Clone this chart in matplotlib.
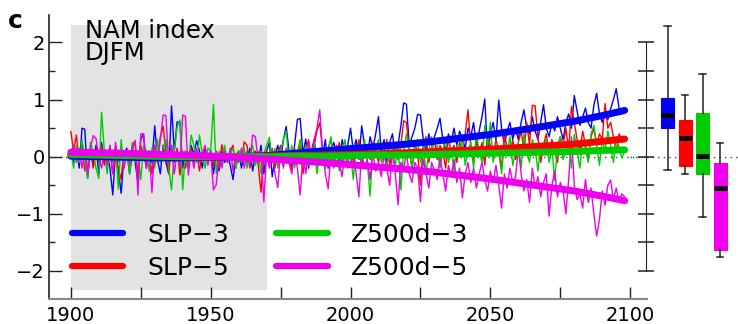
import numpy as np
import matplotlib
matplotlib.use("Agg")
import matplotlib.pyplot as plt
from matplotlib.patches import Rectangle

plt.rcParams['font.family'] = ['DejaVu Sans']

# annual NAM index (DJFM), 1900-2098
years = np.arange(1900, 2099)

slp3 = [
    0.05, -0.1, 0.15, -0.2, 0.5, 0.48, -0.38, 0.1, -0.15, 0.2,
    -0.3, 0.25, -0.1, 0.05, -0.2, -0.67, 0.1, -0.25, -0.64, 0.0,
    0.15, -0.3, 0.05, -0.1, -0.45, 0.3, 0.4, -0.2, 0.1, -0.1,
    0.54, -0.05, -0.3, 0.2, -0.1, -0.3, 0.89, 0.1, 0.61, 0.6,
    -0.2, 0.1, -0.15, 0.2, 0.05, 0.28, 0.1, -0.2, 0.15, -0.05,
    0.1, -0.3, 0.05, -0.25, 0.1, -0.1, 0.05, -0.15, -0.4, 0.0,
    0.1, -0.2, 0.05, -0.1, 0.15, -0.25, 0.05, -0.1, 0.2, -0.3,
    0.1, 0.25, -0.35, 0.0, 0.2, -0.1, 0.3, 0.53, 0.1, -0.2,
    0.2, 0.65, 0.67, 0.05, 0.31, -0.2, 0.1, 0.3, -0.1, 0.15,
    0.0, 0.3, -0.2, 0.1, 0.25, 0.05, -0.1, 0.3, 0.1, 0.2,
    0.5, 0.1, 0.3, -0.05, 0.54, 0.2, 0.0, 0.35, 0.15, 0.4,
    0.7, 0.1, 0.3, -0.1, 0.25, 0.4, 0.0, 0.2, 0.54, 0.94,
    0.92, 0.2, 0.35, 0.5, 0.74, 0.73, 0.3, 0.1, 0.4, 0.2,
    0.35, 0.5, 0.67, 0.3, 0.1, 0.4, 0.25, 0.5, 0.2, 0.45,
    0.3, 0.15, 0.5, 0.35, 0.6, 0.2, 0.45, 0.7, 1.01, 0.05,
    0.4, 0.6, 0.3, 0.99, 0.5, 0.2, 0.45, 0.6, 0.3, 0.5,
    0.3, 0.6, 0.82, 0.5, 0.4, 0.7, 0.45, 0.3, 0.6, 0.91,
    0.5, 0.35, 0.6, 0.45, 0.7, 0.5, 0.3, 0.6, 0.75, 0.5,
    1.07, 0.8, 0.55, 0.7, 0.85, 0.6, 0.5, 0.9, 1.11, 0.75,
    0.6, 0.8, 0.65, 0.84, 1.0, 1.19, 0.85, 0.75, 0.8,
]
slp5 = [
    0.44, 0.1, 0.38, -0.1, 0.2, -0.25, 0.05, 0.15, -0.2, 0.1,
    -0.1, 0.2, -0.15, 0.05, 0.1, -0.3, 0.0, -0.2, -0.4, 0.1,
    0.05, -0.2, 0.1, 0.28, -0.35, 0.2, 0.0, -0.15, 0.1, -0.3,
    0.2, -0.1, 0.35, 0.53, 0.1, -0.3, 0.2, -0.1, 0.15, -0.32,
    0.1, -0.2, 0.05, 0.15, -0.1, 0.1, -0.25, 0.05, 0.1, -0.1,
    0.05, -0.15, 0.1, -0.2, 0.21, 0.0, -0.1, 0.1, 0.2, -0.2,
    0.1, -0.1, 0.26, 0.2, -0.2, 0.05, 0.1, -0.15, -0.62, 0.05,
    0.1, -0.1, 0.15, -0.2, 0.05, 0.2, -0.15, 0.1, 0.0, -0.25,
    0.15, -0.1, 0.2, -0.3, 0.1, 0.3, -0.05, 0.2, 0.45, 0.6,
    0.1, -0.2, 0.15, 0.3, -0.1, 0.05, 0.25, -0.15, 0.1, 0.0,
    0.2, -0.1, 0.05, 0.3, -0.2, 0.15, 0.1, -0.05, 0.25, 0.1,
    -0.1, 0.2, 0.05, 0.3, -0.15, 0.1, 0.25, -0.05, 0.2, 0.63,
    0.6, 0.1, -0.2, 0.25, 0.05, -0.5, 0.2, 0.35, -0.1, 0.15,
    0.3, -0.05, 0.2, 0.1, -0.2, 0.35, 0.05, 0.2, -0.1, 0.25,
    0.1, 0.4, 0.82, 0.2, -0.1, 0.3, 0.05, 0.25, -0.15, 0.35,
    0.2, 0.0, 0.3, 0.1, -0.2, 0.4, 0.15, 0.05, 0.3, -0.05,
    0.25, 0.45, 0.1, 0.6, 0.2, 0.9, 0.89, 0.35, -0.1, 0.2,
    0.4, 0.05, 0.3, 0.15, -0.1, 0.35, 0.2, 0.5, 0.1, 0.88,
    0.6, 0.3, 0.1, 0.45, 0.2, -0.05, 0.35, 0.5, 0.2, 0.4,
    0.3, 0.93, 0.5, 0.6, 0.35, 0.1, 0.4, 0.3, 0.28,
]
z500d3 = [
    0.1, -0.2, 0.2, -0.1, 0.3, -0.05, -0.38, 0.25, 0.1, -0.2,
    -0.38, 0.78, 0.1, -0.3, 0.2, -0.1, 0.15, -0.57, 0.3, -0.2,
    0.1, -0.3, 0.25, -0.1, 0.05, -0.4, 0.2, 0.1, -0.25, 0.15,
    -0.2, 0.3, -0.1, 0.15, 0.3, -0.2, -0.58, 0.1, 0.52, 0.64,
    -0.58, 0.1, -0.2, 0.38, 0.2, -0.1, 0.38, 0.05, -0.2, 0.15,
    0.1, 0.92, -0.29, 0.1, -0.15, 0.2, -0.1, 0.05, 0.15, -0.2,
    0.1, -0.1, 0.15, -0.2, 0.05, 0.2, -0.15, 0.1, -0.3, 0.05,
    0.2, 0.34, -0.1, 0.15, -0.2, 0.1, 0.3, 0.45, -0.1, 0.2,
    -0.2, 0.1, 0.3, -0.1, 0.2, -0.15, 0.05, 0.25, -0.3, 0.1,
    0.2, -0.2, 0.1, 0.35, -0.1, 0.15, -0.25, 0.1, 0.3, -0.1,
    0.05, -0.4, 0.2, 0.1, -0.15, 0.3, -0.1, -0.69, 0.15, 0.05,
    0.3, -0.1, 0.1, -0.2, 0.25, 0.05, -0.15, 0.2, -0.58, 0.1,
    0.4, 0.1, -0.2, 0.15, 0.3, -0.1, 0.2, -0.3, 0.1, 0.35,
    0.0, 0.2, -0.2, 0.1, 0.3, -0.1, 0.15, -0.25, 0.2, 0.05,
    0.35, -0.15, 0.1, 0.25, -0.2, 0.4, 0.1, -0.1, 0.55, 0.2,
    0.6, -0.1, 0.2, 0.1, -0.3, 0.25, 0.05, 0.35, -0.15, 0.1,
    0.25, -0.2, 0.4, 0.1, -0.1, 0.3, 0.15, -0.25, 0.2, 0.05,
    0.3, -0.1, 0.15, -0.42, 0.2, 0.35, -0.05, 0.1, 0.3, -0.2,
    0.39, 0.1, -0.2, 0.3, 0.15, -0.1, 0.4, 0.55, 0.2, -0.15,
    0.3, 0.1, 0.45, 0.2, -0.1, 0.35, 0.15, -0.02, 0.1,
]
z500d5 = [
    0.05, 0.2, -0.1, 0.15, -0.2, 0.1, -0.3, 0.15, 0.37, 0.32,
    0.0, -0.2, 0.1, -0.15, 0.2, -0.3, 0.25, -0.1, 0.05, -0.2,
    0.1, -0.1, 0.2, 0.28, -0.67, 0.4, 0.4, -0.2, 0.1, -0.63,
    0.2, -0.1, 0.3, 0.73, 0.72, -0.1, 0.2, -0.3, 0.1, -0.2,
    0.73, 0.71, -0.32, 0.1, -0.2, 0.15, -0.1, 0.05, 0.2, -0.15,
    0.1, -0.58, -0.49, 0.05, -0.2, 0.1, -0.1, 0.15, -0.25, 0.05,
    -0.1, 0.15, -0.2, 0.1, -0.15, 0.38, 0.35, -0.1, 0.1, -0.79,
    0.05, -0.2, 0.1, -0.3, -0.54, 0.1, -0.2, 0.15, -0.1, -0.3,
    0.1, -0.2, -0.67, 0.05, -0.3, 0.2, -0.1, 0.3, 0.5, 0.82,
    0.1, -0.3, -0.56, 0.05, -0.2, 0.2, -0.1, -0.35, 0.1, -0.2,
    -0.1, 0.15, -0.3, -0.7, 0.1, -0.2, -0.05, -0.4, 0.1, -0.25,
    -0.1, -0.35, 0.05, -0.2, -0.5, 0.1, -0.3, -0.84, -0.1, -0.2,
    0.05, -0.3, -0.45, -0.1, -0.2, -0.79, -0.05, -0.3, -0.55, -0.1,
    -0.25, -0.4, 0.0, -0.3, -0.6, -0.15, -0.35, -0.05, -0.45, -0.2,
    -0.72, -0.3, -0.1, -0.45, -0.2, -0.55, -0.3, -0.1, -0.4, -0.6,
    -0.25, -0.45, -0.15, -0.5, -0.9, -0.3, -0.55, -0.2, -0.45, -0.35,
    0.15, -0.3, -0.6, -0.4, -0.8, -0.2, -0.55, -0.35, -0.7, -0.45,
    -0.3, -1.04, -0.5, -0.25, -0.7, -0.45, -0.6, -1.0, -0.4, 0.35,
    -0.5, -0.75, -0.65, -0.9, -0.4, -0.8, -0.55, -1.0, -1.39, -1.1,
    -0.6, -0.85, -0.5, -0.41, -0.75, -0.55, -0.8, -0.65, -0.7,
]

# smooth trends
trend_years = [1900, 1910, 1920, 1930, 1940, 1950, 1960, 1970, 1980, 1990, 2000,
               2010, 2020, 2030, 2040, 2050, 2060, 2070, 2080, 2090, 2098]
slp3_trend = [0.01, 0.0, -0.01, -0.02, -0.02, -0.01, 0.0, 0.02, 0.06, 0.1, 0.14,
              0.18, 0.22, 0.27, 0.33, 0.39, 0.46, 0.54, 0.62, 0.72, 0.81]
slp5_trend = [0.04, 0.03, 0.02, 0.01, 0.0, 0.0, 0.0, 0.01, 0.02, 0.03, 0.04,
              0.05, 0.07, 0.09, 0.11, 0.13, 0.16, 0.19, 0.22, 0.27, 0.31]
z500d3_trend = [0.04, 0.03, 0.02, 0.01, 0.0, 0.0, 0.0, 0.0, 0.01, 0.01, 0.02,
                0.03, 0.03, 0.04, 0.05, 0.06, 0.07, 0.08, 0.09, 0.11, 0.12]
z500d5_trend = [0.08, 0.07, 0.06, 0.04, 0.03, 0.01, -0.01, -0.04, -0.07, -0.1, -0.14,
                -0.18, -0.22, -0.27, -0.33, -0.39, -0.46, -0.53, -0.6, -0.69, -0.77]

labels = ['SLP\u22123', 'SLP\u22125', 'Z500d\u22123', 'Z500d\u22125']
colors = ['#0000ff', '#ff0000', '#00cc00', '#ee00ee']

# box summary of the trend at 2100: median, q1, q3, whisker low, whisker high
box_med = [0.73, 0.32, 0.01, -0.55]
box_q1 = [0.5, -0.17, -0.31, -1.64]
box_q3 = [1.03, 0.64, 0.77, -0.11]
box_lo = [-0.24, -0.31, -1.06, -1.75]
box_hi = [2.29, 1.08, 1.44, 0.24]

W, H = 738, 324
fig = plt.figure(figsize=(W / 100, H / 100), dpi=100)
ax = fig.add_axes([49 / W, 25 / H, 598 / W, 284 / H])
ax.patch.set_alpha(0)

ylim = (-2.49, 2.48)
ax.set_xlim(1892.2, 2106.0)
ax.set_ylim(*ylim)

ax.add_patch(Rectangle((1900, -2.33), 70, 4.64, facecolor='#e3e3e3', edgecolor='none', zorder=0))
ax.axhline(0, color='#444444', lw=1, ls=(0, (1, 3)), zorder=1)

series = [slp3, slp5, z500d3, z500d5]
trends = [slp3_trend, slp5_trend, z500d3_trend, z500d5_trend]
for vals, col in zip(series, colors):
    ax.plot(years, vals, color=col, lw=1.0, zorder=2)
handles = []
for tr, col, lab in zip(trends, colors, labels):
    h, = ax.plot(trend_years, tr, color=col, lw=5, solid_capstyle='round', zorder=3, label=lab)
    handles.append(h)

for s in ['top', 'right']:
    ax.spines[s].set_visible(False)
ax.spines['left'].set_color('#222222')
ax.spines['bottom'].set_color('#888888')
ax.spines['left'].set_linewidth(1.2)
ax.spines['bottom'].set_linewidth(1.5)

ax.set_xticks([1900, 1950, 2000, 2050, 2100])
ax.set_xticks([1925, 1975, 2025, 2075], minor=True)
ax.set_yticks([-2, -1, 0, 1, 2])
ax.set_yticks([-1.5, -0.5, 0.5, 1.5], minor=True)
ax.tick_params(axis='x', which='both', direction='in', length=8.5, width=1, color='#222222',
               labelsize=14, pad=5)
ax.tick_params(axis='y', which='major', direction='in', length=9.5, width=1, color='#222222',
               labelsize=14, pad=3)
ax.tick_params(axis='y', which='minor', direction='in', length=4.5, width=1, color='#222222')

leg = ax.legend(handles=handles, ncol=2, frameon=False, fontsize=18,
                loc='upper left', bbox_to_anchor=(72 / W, 1 - 223 / H),
                bbox_transform=fig.transFigure, borderpad=0, borderaxespad=0,
                handlelength=2.05, handletextpad=0.95, columnspacing=1.9,
                labelspacing=0.36)
for ln in leg.get_lines():
    ln.set_linewidth(4.5)

fig.text(85 / W, 1 - 19 / H, 'NAM index\nDJFM', fontsize=17.5, va='top', ha='left', linespacing=0.92)
fig.text(8 / W, 1 - 9 / H, 'c', fontsize=18, fontweight='bold', va='top', ha='left')

# right panel with box plots
ax2 = fig.add_axes([630 / W, 25 / H, 108 / W, 284 / H])
ax2.patch.set_alpha(0)
ax2.set_xlim(-1.15, 5.02)
ax2.set_ylim(*ylim)
ax2.axhline(0, color='#444444', lw=1, ls=(0, (1, 3)), zorder=0)
stats = []
for med, q1, q3, lo, hi in zip(box_med, box_q1, box_q3, box_lo, box_hi):
    stats.append({'med': med, 'q1': q1, 'q3': q3, 'whislo': lo, 'whishi': hi, 'fliers': []})
bp = ax2.bxp(stats, positions=[1, 2, 3, 4], widths=0.74, patch_artist=True, showfliers=False,
             whiskerprops={'color': '#222222', 'lw': 1.1},
             capprops={'color': '#222222', 'lw': 1.1},
             medianprops={'color': 'black', 'lw': 3.5})
for box, col in zip(bp['boxes'], colors):
    box.set_facecolor(col)
    box.set_edgecolor(col)
    box.set_linewidth(0.8)

for s in ['top', 'right', 'bottom']:
    ax2.spines[s].set_visible(False)
ax2.spines['left'].set_position(('data', -0.24))
ax2.spines['left'].set_bounds(-2, 2)
ax2.spines['left'].set_color('#222222')
ax2.set_yticks(np.arange(-2, 2.01, 0.5))
ax2.set_xticks([])
ax2.tick_params(axis='y', direction='inout', length=11, width=1.2, color='#333333', labelleft=False)

fig.savefig('out.png', dpi=100)
